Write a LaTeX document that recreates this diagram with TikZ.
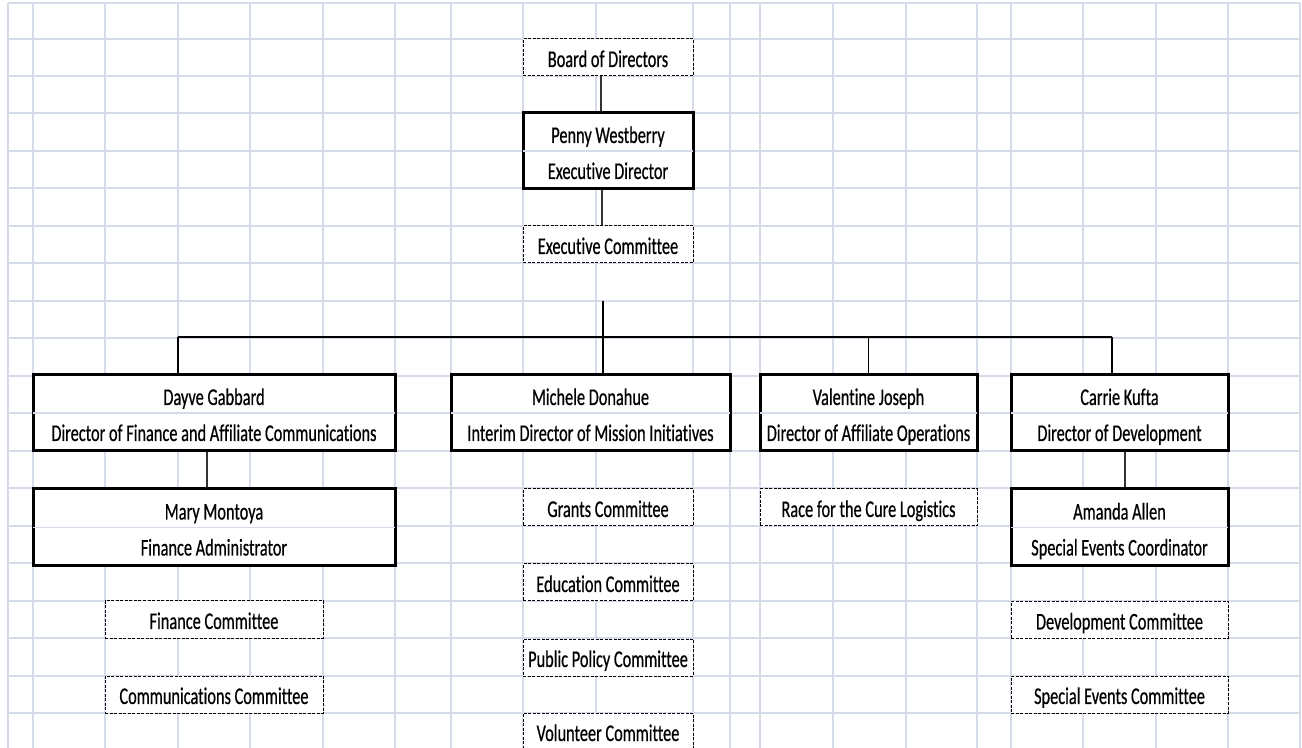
\documentclass[tikz,border=0pt]{standalone}
\usepackage{fontspec}
\setmainfont{Carlito}[FakeStretch=0.68, FakeBold=0.5, Ligatures=NoCommon]
\usetikzlibrary{calc}
\definecolor{GridBlue}{RGB}{214,219,234}
\newcommand{\twoline}[2]{\rule{0pt}{12pt}#1\\#2\rule[-2pt]{0pt}{2pt}}
\tikzset{
    gridline/.style = {draw=GridBlue, line width=0.8pt},
    person/.style = {draw, fill=white, line width=1.5pt,
        minimum height=38pt, inner sep=0pt, align=center,
        font=\fontsize{12}{18}\selectfont},
    committee/.style = {draw, fill=white, line width=0.5pt,
        dash pattern=on 1.5pt off 0.75pt,
        minimum height=18.5pt, inner sep=0pt,
        text height=10.5pt, text depth=1pt,
        font=\fontsize{12}{14}\selectfont},
    link/.style = {draw, black!80, line width=0.6pt}
}

\begin{document}
\begin{tikzpicture}[x=0.5pt, y=-0.5pt]
    \useasboundingbox (0,0) rectangle (1302,748);
    % sheet grid
    \foreach \gx in {8,33,105,178,250,323,395,451,523,596,693,730,760,833,906,977,1011,1083,1156,1228,1300}
        \draw [gridline] (\gx,3) -- (\gx,748);
    \foreach \gy in {3,39,76,113,151,188,226,263,301,338,376,413,451,488,526,563,601,638,676,713}
        \draw [gridline] (8,\gy) -- (1300,\gy);

    % top of the chart
    \node [committee, minimum width=85pt] (board) at (608,57.5) {Board of Directors};
    \node [person, minimum width=85pt] (penny) at (608,151) {\twoline{Penny Westberry}{Executive Director}};
    \node [committee, minimum width=85pt] (exec) at (608,244.5) {Executive Committee};
    \draw [link] ($(board.south)+(-7,0)$) -- ($(penny.north)+(-7,0)$);
    \draw [link] ($(penny.south)+(-6,0)$) -- ($(exec.north)+(-6,0)$);

    % directors
    \node [person, minimum width=181pt] (dayve) at (214,413) {\twoline{Dayve Gabbard}{Director of Finance and Affiliate Communications}};
    \node [person, minimum width=139.5pt] (michele) at (590.5,413) {\twoline{Michele Donahue}{Interim Director of Mission Initiatives}};
    \node [person, minimum width=108.5pt] (valentine) at (868.5,413) {\twoline{Valentine Joseph}{Director of Affiliate Operations}};
    \node [person, minimum width=108.5pt] (carrie) at (1119.5,413) {\twoline{Carrie Kufta}{Director of Development}};

    % bus
    \coordinate (busTop) at (603,301);
    \coordinate (busMid) at (603,337);
    \coordinate (busL) at (178,337);
    \coordinate (busR) at (1112,337);
    \draw [link, black] (busTop) -- (busMid);
    \draw [link, black] (busL) -- (busR);
    \draw [link, black] (busL) -- (busL |- dayve.north);
    \draw [link, black] (busMid) -- (busMid |- michele.north);
    \draw [link, black] (busMid -| valentine.north) -- (valentine.north);
    \draw [link, black] (busR) -- (busR |- carrie.north);

    % staff
    \node [person, minimum width=181pt, minimum height=38.5pt] (mary) at (214,527.5) {\twoline{Mary Montoya}{Finance Administrator}};
    \node [person, minimum width=108.5pt, minimum height=38.5pt] (amanda) at (1119.5,527.5) {\twoline{Amanda Allen}{Special Events Coordinator}};
    \draw [link] ($(dayve.south)+(-7,0)$) -- ($(mary.north)+(-7,0)$);
    \draw [link] ($(carrie.south)+(5.5,0)$) -- ($(amanda.north)+(5.5,0)$);

    % row lines that run through the merged cells
    \foreach \who in {penny,dayve,michele,valentine,carrie,mary,amanda}
        \draw [gridline] ([xshift=0.8pt]\who.west) -- ([xshift=-0.8pt]\who.east);

    % committees
    \node [committee, minimum width=109pt] (fincom) at (214,619.5) {Finance Committee};
    \node [committee, minimum width=109pt] (comcom) at (214,694.5) {Communications Committee};
    \node [committee, minimum width=85pt] (grants) at (608,507.5) {Grants Committee};
    \node [committee, minimum width=85pt] (educ) at (608,582.5) {Education Committee};
    \node [committee, minimum width=85pt] (policy) at (608,657.5) {Public Policy Committee};
    \node [committee, minimum width=85pt] (volunteer) at (608,731.5) {Volunteer Committee};
    \node [committee, minimum width=108.5pt] (race) at (868.5,507.5) {Race for the Cure Logistics};
    \node [committee, minimum width=108.5pt] (devcom) at (1119.5,620) {Development Committee};
    \node [committee, minimum width=108.5pt] (specom) at (1119.5,694.5) {Special Events Committee};
\end{tikzpicture}
\end{document}
